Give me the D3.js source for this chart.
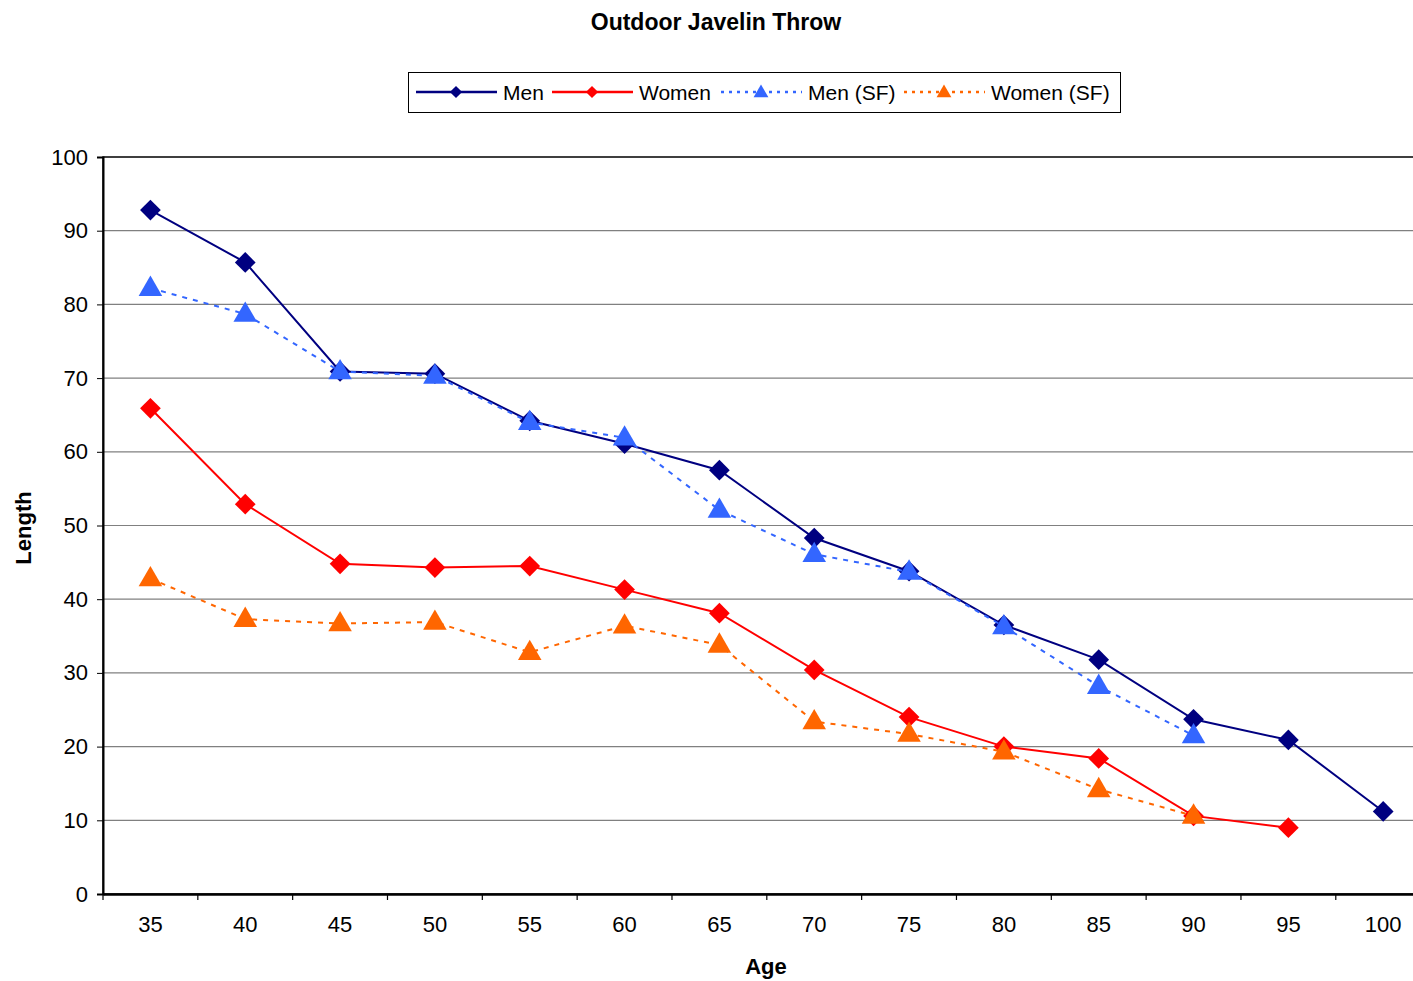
<!DOCTYPE html>
<html>
<head>
<meta charset="utf-8">
<script src="https://cdn.jsdelivr.net/npm/d3@7/dist/d3.min.js"></script>
<style>
  body { margin: 0; background: #fff; }
  svg { font-family: "Liberation Sans", Arial, sans-serif; display: block; }
</style>
</head>
<body>
<div id="chart"></div>
<script>
// Data
const ages = [35, 40, 45, 50, 55, 60, 65, 70, 75, 80, 85, 90, 95, 100];
const men = [92.8, 85.7, 70.9, 70.6, 64.2, 61.1, 57.5, 48.3, 43.8, 36.5, 31.8, 23.7, 20.9, 11.2];
const women = [65.9, 52.9, 44.8, 44.3, 44.5, 41.3, 38.1, 30.4, 24.0, 20.0, 18.4, 10.6, 9.0, null];
const menSF = [82.2, 78.7, 70.9, 70.3, 64.0, 61.9, 52.1, 46.1, 43.7, 36.3, 28.2, 21.5, null, null];
const womenSF = [42.8, 37.3, 36.7, 36.9, 32.8, 36.4, 33.8, 23.4, 21.7, 19.3, 14.2, 10.6, null, null];
const yTicks = [0, 10, 20, 30, 40, 50, 60, 70, 80, 90, 100];

const series = [
  { name: 'Men', values: men, color: '#000080', dash: null, marker: 'diamond' },
  { name: 'Women', values: women, color: '#ff0000', dash: null, marker: 'diamond' },
  { name: 'Men (SF)', values: menSF, color: '#3366ff', dash: '5,6', marker: 'triangle' },
  { name: 'Women (SF)', values: womenSF, color: '#ff6600', dash: '5,6', marker: 'triangle' }
];

const width = 1413, height = 981;
const plot = { left: 103, top: 157, bottom: 894 };
const band = 94.83;

const svg = d3.select('#chart').append('svg')
  .attr('width', width)
  .attr('height', height);

// Scales
const x = d3.scaleBand()
  .domain(ages)
  .range([plot.left, plot.left + band * ages.length])
  .padding(0);

const y = d3.scaleLinear()
  .domain([0, 100])
  .range([plot.bottom, plot.top]);

const cx = a => x(a) + x.bandwidth() / 2;
const plotRight = plot.left + band * ages.length;

// Gridlines
svg.append('g')
  .selectAll('line')
  .data(yTicks.filter(t => t > 0 && t < 100))
  .enter().append('line')
  .attr('x1', plot.left)
  .attr('x2', plotRight)
  .attr('y1', d => y(d))
  .attr('y2', d => y(d))
  .attr('stroke', '#808080')
  .attr('stroke-width', 1.2);

// Plot border
svg.append('rect')
  .attr('x', plot.left)
  .attr('y', plot.top)
  .attr('width', plotRight - plot.left)
  .attr('height', plot.bottom - plot.top)
  .attr('fill', 'none')
  .attr('stroke', '#000')
  .attr('stroke-width', 1.5);

// Y axis
const yAxis = svg.append('g')
  .attr('transform', `translate(${plot.left},0)`)
  .call(d3.axisLeft(y).tickValues(yTicks).tickSize(6).tickPadding(9));
yAxis.select('.domain').attr('stroke', '#000').attr('stroke-width', 2);
yAxis.selectAll('.tick line').attr('stroke', '#000');
yAxis.selectAll('.tick text')
  .style('font-size', '22px')
  .attr('fill', '#000');

// X axis (labels at band centres, ticks at band edges)
const xAxis = svg.append('g')
  .attr('transform', `translate(0,${plot.bottom})`)
  .call(d3.axisBottom(x).tickSize(0).tickPadding(22));
xAxis.select('.domain').attr('stroke', '#000').attr('stroke-width', 2.5);
xAxis.selectAll('.tick text')
  .style('font-size', '22px')
  .attr('fill', '#000');
xAxis.selectAll('.edge')
  .data(ages)
  .enter().append('line')
  .attr('class', 'edge')
  .attr('x1', d => x(d))
  .attr('x2', d => x(d))
  .attr('y1', 0)
  .attr('y2', 6)
  .attr('stroke', '#000')
  .attr('stroke-width', 1.2);

// Markers
function markerPath(type, size) {
  const sym = type === 'diamond' ? d3.symbolSquare : d3.symbolTriangle;
  return d3.symbol().type(sym).size(size)();
}

// Lines
const line = d3.line()
  .defined(d => d.v != null)
  .x(d => cx(d.a))
  .y(d => y(d.v));

series.forEach(s => {
  const pts = ages.map((a, i) => ({ a, v: s.values[i] }));
  svg.append('path')
    .datum(pts)
    .attr('d', line)
    .attr('fill', 'none')
    .attr('stroke', s.color)
    .attr('stroke-width', 2)
    .attr('stroke-dasharray', s.dash);

  svg.append('g')
    .selectAll('path')
    .data(pts.filter(d => d.v != null))
    .enter().append('path')
    .attr('d', markerPath(s.marker, s.marker === 'diamond' ? 215 : 240))
    .attr('transform', d => s.marker === 'diamond'
      ? `translate(${cx(d.a)},${y(d.v)}) rotate(45)`
      : `translate(${cx(d.a)},${y(d.v) + 1})`)
    .attr('fill', s.color);
});

// Title
svg.append('text')
  .attr('x', 716)
  .attr('y', 30)
  .attr('text-anchor', 'middle')
  .style('font-size', '23px')
  .style('font-weight', 'bold')
  .text('Outdoor Javelin Throw');

// Axis titles
svg.append('text')
  .attr('x', 766)
  .attr('y', 974)
  .attr('text-anchor', 'middle')
  .style('font-size', '22px')
  .style('font-weight', 'bold')
  .text('Age');

svg.append('text')
  .attr('transform', 'translate(31,528) rotate(-90)')
  .attr('text-anchor', 'middle')
  .style('font-size', '22px')
  .style('font-weight', 'bold')
  .text('Length');

// Legend
const legend = svg.append('g');
legend.append('rect')
  .attr('x', 408.5)
  .attr('y', 72.5)
  .attr('width', 712)
  .attr('height', 40)
  .attr('fill', '#fff')
  .attr('stroke', '#000')
  .attr('stroke-width', 1);

const legendX = [416, 552, 721, 904];
series.forEach((s, i) => {
  const g = legend.append('g').attr('transform', `translate(${legendX[i]},92)`);
  g.append('line')
    .attr('x1', 0).attr('x2', 81)
    .attr('stroke', s.color)
    .attr('stroke-width', 2.5)
    .attr('stroke-dasharray', s.dash ? '3,5' : null);
  g.append('path')
    .attr('d', markerPath(s.marker, s.marker === 'diamond' ? 75 : 95))
    .attr('transform', s.marker === 'diamond' ? 'translate(40,0) rotate(45)' : 'translate(40,1)')
    .attr('fill', s.color);
  g.append('text')
    .attr('x', 87)
    .attr('y', 7.5)
    .style('font-size', '21px')
    .text(s.name);
});
</script>
</body>
</html>
